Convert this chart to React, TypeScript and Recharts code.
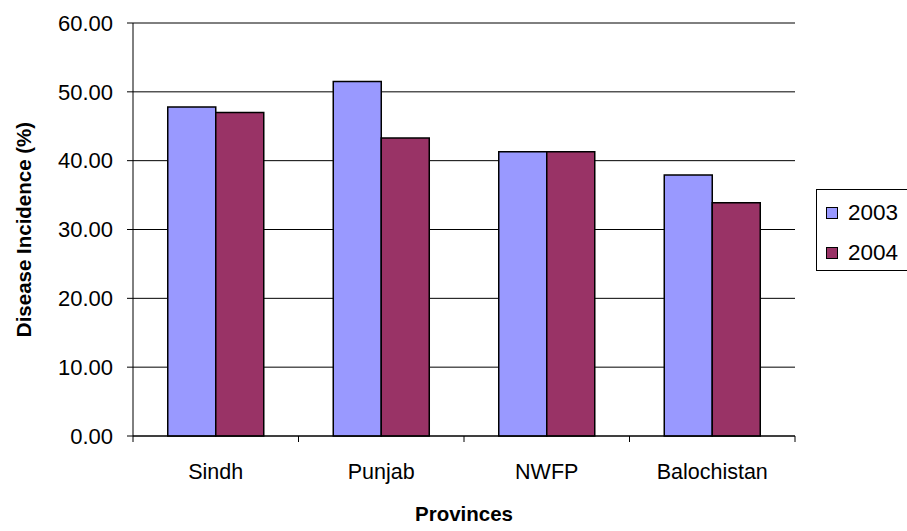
import { BarChart, Bar, XAxis, YAxis, CartesianGrid, Legend } from 'recharts'

const provinces = ['Sindh', 'Punjab', 'NWFP', 'Balochistan']
const values2003 = [47.8, 51.5, 41.3, 37.9]
const values2004 = [47.0, 43.3, 41.3, 33.9]
const yTicks = [0, 10, 20, 30, 40, 50, 60]

const data = provinces.map((name, i) => ({
    name,
    y2003: values2003[i],
    y2004: values2004[i],
}))

const W = 907
const H = 531
const M = { top: 23, right: 112, bottom: 0, left: 0 }
const Y_W = 133
const X_H = 95
const FONT = 'Arial, "Liberation Sans", sans-serif'

const bandW = (W - M.right - Y_W) / provinces.length

// Excel puts category ticks between the groups, not under them
function CategoryTick(props: any) {
    const { x, y, payload, index } = props
    const left = x - bandW / 2
    return (
        <g>
            <line x1={left} y1={y - 8} x2={left} y2={y - 2} stroke="#000" />
            {index === provinces.length - 1 && (
                <line x1={x + bandW / 2} y1={y - 8} x2={x + bandW / 2} y2={y - 2} stroke="#000" />
            )}
            <text x={x} y={y + 35} textAnchor="middle" fontSize={21.5} fontFamily={FONT} fill="#000">
                {payload.value}
            </text>
        </g>
    )
}

function LegendBox() {
    const items = [
        { label: '2003', color: '#9999FF' },
        { label: '2004', color: '#993366' },
    ]
    return (
        <div
            style={{
                position: 'absolute',
                left: 816,
                top: 189,
                width: 100,
                height: 82,
                border: '1px solid #000',
                boxSizing: 'border-box',
                fontFamily: FONT,
                fontSize: 22.5,
            }}
        >
            {items.map((it, i) => (
                <div
                    key={it.label}
                    style={{
                        position: 'absolute',
                        left: 9,
                        top: 9 + i * 40,
                        height: 28,
                        display: 'flex',
                        alignItems: 'center',
                    }}
                >
                    <span
                        style={{
                            width: 10,
                            height: 10,
                            background: it.color,
                            border: '1px solid #000',
                            marginRight: 10,
                        }}
                    />
                    <span>{it.label}</span>
                </div>
            ))}
        </div>
    )
}

export default function App() {
    return (
        <div style={{ position: 'absolute', left: 0, top: 0, width: W, height: H, background: '#fff', overflow: 'hidden' }}>
            <BarChart width={W} height={H} data={data} margin={M} barCategoryGap="21%" barGap={0}>
                <CartesianGrid vertical={false} stroke="#000" strokeWidth={1} />
                <XAxis
                    dataKey="name"
                    height={X_H}
                    axisLine={{ stroke: '#000' }}
                    tickLine={false}
                    tick={<CategoryTick />}
                    interval={0}
                    label={{
                        value: 'Provinces',
                        position: 'insideBottom',
                        offset: 10,
                        fontSize: 20.5,
                        fontWeight: 'bold',
                        fontFamily: FONT,
                        fill: '#000',
                    }}
                />
                <YAxis
                    width={Y_W}
                    domain={[0, 60]}
                    ticks={yTicks}
                    interval={0}
                    tickFormatter={(v: number) => v.toFixed(2)}
                    axisLine={{ stroke: '#000' }}
                    tickLine={{ stroke: '#000' }}
                    tickSize={6}
                    tickMargin={14}
                    tick={{ fontSize: 22, fontFamily: FONT, fill: '#000' }}
                    label={{
                        value: 'Disease Incidence (%)',
                        angle: -90,
                        position: 'insideLeft',
                        offset: 24,
                        style: { textAnchor: 'middle' },
                        fontSize: 20.5,
                        fontWeight: 'bold',
                        fontFamily: FONT,
                        fill: '#000',
                    }}
                />
                <Legend content={() => null} />
                <Bar dataKey="y2003" name="2003" fill="#9999FF" stroke="#000" strokeWidth={1.5} isAnimationActive={false} />
                <Bar dataKey="y2004" name="2004" fill="#993366" stroke="#000" strokeWidth={1.5} isAnimationActive={false} />
            </BarChart>
            <LegendBox />
        </div>
    )
}
